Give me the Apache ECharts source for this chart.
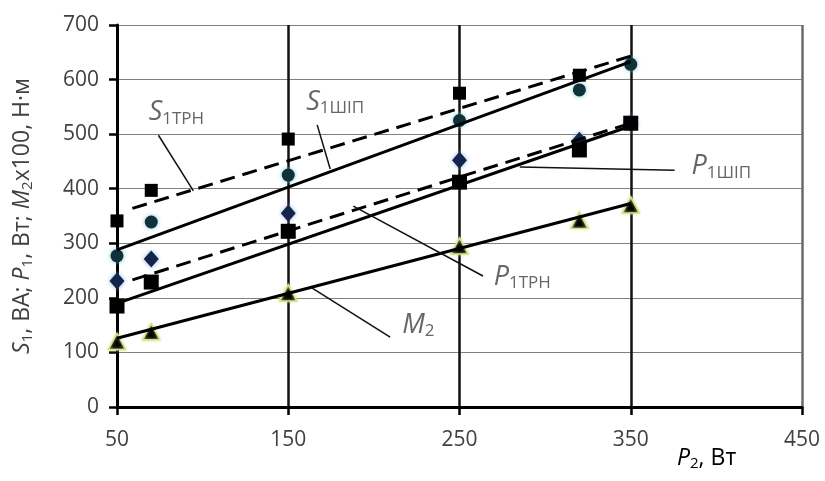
<!DOCTYPE html>
<html><head><meta charset="utf-8">
<script src="https://cdn.jsdelivr.net/npm/echarts@6/dist/echarts.min.js"></script>
<style>html,body{margin:0;padding:0;background:#fff}#c{width:825px;height:481px}</style>
</head><body><div id="c"></div>
<script>
// ---- data ----
const p2 = [50, 70, 150, 250, 320, 350];
const s1trn = [341, 397, 491, 575, 608, null];
const s1ship = [277, 339, 425, 525, 581, 628];
const p1ship = [231, 271, 355, 452, 489, 520];
const p1trn = [185, 229, 322, 412, 471, 520];
const m2 = [120, 138, 209, 295, 342, 370];

// trend lines (endpoints)
const s1trnTrend = [[59, 364], [350, 643]];
const s1shipTrend = [[50, 288], [350, 633]];
const p1shipTrend = [[59, 233], [350, 520]];
const p1trnTrend = [[50, 190], [350, 515]];
const m2Trend = [[50, 126], [350, 373]];

// annotation leaders (data coords)
const leaders = [
  [[74.2, 498], [94.6, 396]],
  [[166.9, 517], [174.5, 436]],
  [[285.2, 440], [375.6, 434]],
  [[188, 368], [263.7, 240]],
  [[164, 218], [209.5, 128]]
];
const annotPos = [[68.5, 540], [160.5, 559], [385.5, 441], [270, 238], [216.5, 150]];
const annotMain = ['S', 'S', 'P', 'P', 'M'];
const annotSub = ['1ТРН', '1ШІП', '1ШІП', '1ТРН', '2'];

const xTicks = [50, 150, 250, 350, 450];
const yTicks = [0, 100, 200, 300, 400, 500, 600, 700];

const FONT = 'Open Sans';
const TXT = '#404040';

function zip(xs, ys) {
  const out = [];
  xs.forEach((x, i) => { if (ys[i] != null) out.push([x, ys[i]]); });
  return out;
}

const chart = echarts.init(document.getElementById('c'));
const series = [];

const trendStyle = (data, dashed) => ({
  type: 'line', data, symbol: 'none', silent: true, z: 5,
  lineStyle: { color: '#000', width: 3, type: dashed ? [15, 8] : 'solid' }
});
series.push(trendStyle(s1trnTrend, true));
series.push(trendStyle(s1shipTrend, false));
series.push(trendStyle(p1shipTrend, true));
series.push(trendStyle(p1trnTrend, false));
series.push(trendStyle(m2Trend, false));

leaders.forEach(l => series.push({
  type: 'line', data: l, symbol: 'none', silent: true, z: 5,
  lineStyle: { color: '#111', width: 1.5 }
}));

series.push({ type: 'scatter', name: 'P1SHIP', data: zip(p2, p1ship), symbol: 'diamond', symbolSize: [15, 17], z: 3,
  itemStyle: { opacity: 1, color: '#15244a', shadowBlur: 4, shadowColor: 'rgba(120,170,220,0.9)' } });
series.push({ type: 'scatter', name: 'S1SHIP', data: zip(p2, s1ship), symbol: 'circle', symbolSize: 13, z: 3,
  itemStyle: { opacity: 1, color: '#10303a', shadowBlur: 4, shadowColor: 'rgba(100,190,210,0.9)' } });
series.push({ type: 'scatter', name: 'S1TRN', data: zip(p2, s1trn), symbol: 'rect', symbolSize: 13, z: 4,
  itemStyle: { opacity: 1, color: '#000' } });
series.push({ type: 'scatter', name: 'P1TRN', data: zip(p2, p1trn), symbol: 'rect', symbolSize: 15, z: 4,
  itemStyle: { opacity: 1, color: '#000' } });
series.push({ type: 'scatter', name: 'M2', data: zip(p2, m2), symbol: 'triangle', symbolSize: [17, 16], z: 4,
  itemStyle: { opacity: 1, color: '#000', borderColor: '#d6e08a', borderWidth: 1.5, shadowBlur: 3, shadowColor: 'rgba(220,230,140,0.9)' } });

series.push({
  type: 'scatter', symbolSize: 0, silent: true, z: 6,
  data: annotPos.map((p, i) => ({
    value: p,
    label: { formatter: '{m|' + annotMain[i] + '}{s|' + annotSub[i] + '}' }
  })),
  label: {
    show: true, position: 'right', distance: 0,
    rich: {
      m: { fontFamily: FONT, fontStyle: 'italic', fontSize: 27, color: TXT, lineHeight: 30 },
      s: { fontFamily: FONT, fontSize: 17, color: TXT, lineHeight: 17, verticalAlign: 'bottom' }
    }
  }
});

const richAxis = {
  i: { fontFamily: FONT, fontStyle: 'italic', fontSize: 23, color: TXT, lineHeight: 26 },
  s: { fontFamily: FONT, fontSize: 15, color: TXT, lineHeight: 15, verticalAlign: 'bottom' },
  n: { fontFamily: FONT, fontSize: 23, color: TXT, lineHeight: 26 }
};

chart.setOption({
  animation: false,
  grid: { left: 117, right: 23, top: 25, bottom: 74 },
  xAxis: {
    type: 'value', min: xTicks[0], max: xTicks[xTicks.length - 1], interval: 100,
    axisLine: { show: true, onZero: false, lineStyle: { color: '#000', width: 3 } },
    axisTick: { show: true, length: 8, lineStyle: { color: '#000', width: 2.5 } },
    axisLabel: { margin: 23, fontFamily: FONT, fontSize: 21, color: TXT },
    splitLine: { show: true, lineStyle: { color: ['#111', '#111', '#111', '#111', '#6a6a6a'], width: 2.5 } }
  },
  yAxis: {
    type: 'value', min: yTicks[0], max: yTicks[yTicks.length - 1], interval: 100,
    name: '{i|S}{s|1}{n|, ВА; }{i|P}{s|1}{n|, Вт; }{i|M}{s|2}{n|x100, Н·м}',
    nameLocation: 'middle', nameGap: 82, nameRotate: 90,
    nameTextStyle: { rich: richAxis },
    axisLine: { show: true, lineStyle: { color: '#000', width: 3 } },
    axisTick: { show: true, length: 8, lineStyle: { color: '#000', width: 2.5 } },
    axisLabel: { margin: 18, fontFamily: FONT, fontSize: 21, color: TXT },
    splitLine: { show: true, lineStyle: { color: '#808080', width: 1.2 } }
  },
  graphic: [{
    type: 'text', left: 677, top: 447, z: 10,
    style: {
      text: '{i|P}{s|2}{n|, Вт}',
      rich: richAxis
    }
  }],
  series
});
</script></body></html>
